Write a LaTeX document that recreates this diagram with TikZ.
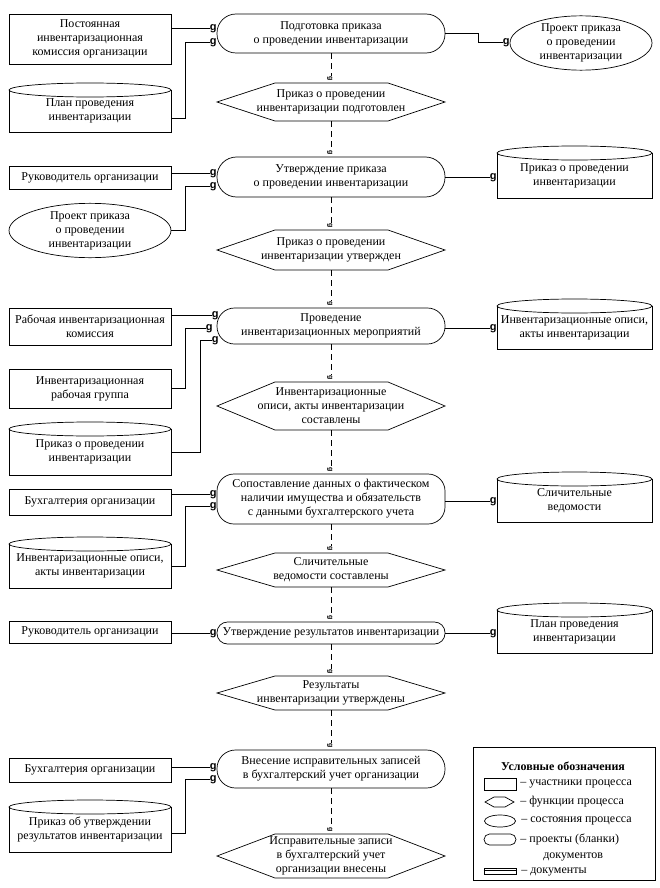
\documentclass[tikz,border=0pt]{standalone}
\usepackage{fontspec}
\setmainfont{Liberation Serif}
\newfontfamily\gfont{Liberation Sans}
\usetikzlibrary{shapes.geometric,calc}
\newcommand{\docnode}[6]{%
  \draw ({(#2+#4)/2},{#3+7}) ellipse [x radius={(#4-#2)/2}, y radius=7];
  \draw (#2,{#3+7}) -- (#2,#5) -- (#4,#5) -- (#4,{#3+7});
  \node[body, minimum width={(#4-#2)*1pt}, minimum height={(#5-#3-7)*1pt}] (#1) at ({(#2+#4)/2},{(#3+7+#5)/2}) {#6};
}
\newcommand{\statenode}[4]{%
  \draw (217,#2) -- (275,{#2-#3}) -- (388,{#2-#3}) -- (445,#2) -- (388,{#2+#3}) -- (275,{#2+#3}) -- cycle;
  \node[body, minimum width=228pt, minimum height={2*#3*1pt}] (#1) at (331,#2) {#4};
}
\begin{document}
\begin{tikzpicture}[x=1pt,y=-1pt, line width=0.7pt,
  every node/.style={font=\fontsize{12}{14}\selectfont, inner sep=0pt, align=center},
  part/.style={draw, rectangle, minimum width=162pt},
  proc/.style={draw, rectangle, minimum width=228pt},
  ell/.style={draw, ellipse},
  body/.style={rectangle},
  gl/.style={font=\gfont\bfseries\fontsize{11}{11}\selectfont, anchor=mid east},
  vg/.style={font=\gfont\bfseries\fontsize{7}{7}\selectfont, rotate=-90, anchor=mid east},
  flow/.style={dash pattern=on 6pt off 4pt},
  legtext/.style={anchor=west}]
\fill[white] (0,0) rectangle (660,888);
\useasboundingbox (0,0) rectangle (660,888);

% ---------- Row 1
\node[part, minimum height=50pt] (a1) at (90,39) {Постоянная\\инвентаризационная\\комиссия организации};
\docnode{d1}{9}{83}{171}{132}{План проведения\\инвентаризации}
\node[proc, minimum height=39pt, rounded corners=19pt] (p1) at (331,33.5) {Подготовка приказа\\о проведении инвентаризации};
\node[ell, minimum width=142pt, minimum height=52pt] (e1) at (581,43) {Проект приказа\\о проведении\\инвентаризации};
\statenode{s1}{102}{19}{Приказ о проведении\\инвентаризации подготовлен}
\node[gl] (g11) at (217,28) {g};
\node[gl] (g12) at (217,42) {g};
\node[gl] (g13) at (510,42) {g};
\draw (a1.east |- g11.mid west) -- (g11.mid west);
\draw ([yshift=-7pt]d1.east) -- ++(14,0) |- (g12.mid west);
\draw (p1.east) -- ++(33,0) |- (g13.mid west);

% ---------- Row 2
\node[part, minimum height=23pt] (a2) at (90,177.5) {Руководитель организации};
\node[ell, minimum width=162pt, minimum height=49pt] (e2) at (90,230.5) {Проект приказа\\о проведении\\инвентаризации};
\node[proc, minimum height=40pt, rounded corners=19.5pt] (p2) at (331,177) {Утверждение приказа\\о проведении инвентаризации};
\docnode{d2}{497}{146}{652}{198}{Приказ о проведении\\инвентаризации}
\statenode{s2}{250}{20}{Приказ о проведении\\инвентаризации утвержден}
\node[gl] (g21) at (217,173) {g};
\node[gl] (g22) at (217,186) {g};
\node[gl] (g23) at (497,177) {g};
\draw (a2.east |- g21.mid west) -- (g21.mid west);
\draw (e2.east) -- ++(14,0) |- (g22.mid west);
\draw (p2.east |- g23.mid west) -- (g23.mid west);

% ---------- Row 3
\node[part, minimum height=37pt] (a3) at (90,326.5) {Рабочая инвентаризационная\\комиссия};
\node[part, minimum height=39pt] (a4) at (90,388.5) {Инвентаризационная\\рабочая группа};
\docnode{d3}{9}{422}{171}{475}{Приказ о проведении\\инвентаризации}
\node[proc, minimum height=36pt, rounded corners=17.5pt] (p3) at (331,326) {Проведение\\инвентаризационных мероприятий};
\docnode{d4}{497}{299}{652}{349}{Инвентаризационные описи,\\акты инвентаризации}
\statenode{s3}{406}{24}{Инвентаризационные\\описи, акты инвентаризации\\составлены}
\node[gl] (g31) at (219,315) {g};
\node[gl] (g32) at (213,328) {g};
\node[gl] (g33) at (219,340) {g};
\node[gl] (g34) at (497,328) {g};
\draw (a3.east |- g31.mid west) -- (g31.mid west);
\draw (a4.east) -- ++(14,0) |- (g32.mid west);
\draw (d3.east) -- ++(29,0) |- (g33.mid west);
\draw (p3.east |- g34.mid west) -- (g34.mid west);

% ---------- Row 4
\node[part, minimum height=26pt] (a5) at (90,502) {Бухгалтерия организации};
\docnode{d5}{9}{537}{171}{588}{Инвентаризационные описи,\\акты инвентаризации}
\node[proc, minimum height=50pt, rounded corners=17pt] (p4) at (331,499) {Сопоставление данных о фактическом\\наличии имущества и обязательств\\с данными бухгалтерского учета};
\docnode{d6}{497}{472}{652}{522}{Сличительные\\ведомости}
\statenode{s4}{570}{17}{Сличительные\\ведомости составлены}
\node[gl] (g41) at (217,494) {g};
\node[gl] (g42) at (217,506) {g};
\node[gl] (g43) at (497,501) {g};
\draw (a5.east |- g41.mid west) -- (g41.mid west);
\draw (d5.east) -- ++(14,0) |- (g42.mid west);
\draw (p4.east |- g43.mid west) -- (g43.mid west);

% ---------- Row 5
\node[part, minimum height=22pt] (a6) at (90,632) {Руководитель организации};
\node[proc, minimum height=22pt, rounded corners=10.5pt] (p5) at (331,633) {Утверждение результатов инвентаризации};
\docnode{d7}{497}{603}{652}{653}{План проведения\\инвентаризации}
\statenode{s5}{693}{17}{Результаты\\инвентаризации утверждены}
\node[gl] (g51) at (217,633) {g};
\node[gl] (g52) at (497,633) {g};
\draw (a6.east |- g51.mid west) -- (g51.mid west);
\draw (p5.east |- g52.mid west) -- (g52.mid west);

% ---------- Row 6
\node[part, minimum height=24pt] (a7) at (90,770) {Бухгалтерия организации};
\docnode{d8}{9}{800}{171}{852}{Приказ об утверждении\\результатов инвентаризации}
\node[proc, minimum height=38pt, rounded corners=18.5pt] (p6) at (331,769) {Внесение исправительных записей\\в бухгалтерский учет организации};
\statenode{s6}{856}{22}{Исправительные записи\\в бухгалтерский учет\\организации внесены}
\node[gl] (g61) at (217,767) {g};
\node[gl] (g62) at (217,779) {g};
\draw (a7.east |- g61.mid west) -- (g61.mid west);
\draw ([yshift=-3.5pt]d8.east) -- ++(14,0) |- (g62.mid west);

% ---------- dashed flow
\foreach \a/\b [count=\i] in {p1/s1, s1/p2, p2/s2, s2/p3, p3/s3, s3/p4, p4/s4, s4/p5, p5/s5, s5/p6, p6/s6}{
  \node[vg] (v\i) at ([yshift=2pt]\b.north) {g};
  \draw[flow] (\a.south) -- (v\i.mid west);
}

% ---------- legend
\node[draw, minimum width=182pt, minimum height=133pt] (leg) at (564,813.5) {};
\node[font=\bfseries\fontsize{12}{14}\selectfont] (lt) at (563,766) {Условные обозначения};
\node[draw, minimum width=32pt, minimum height=12pt] (l1) at (500,784) {};
\draw (485,802) -- (494,797) -- (505,797) -- (514,802) -- (505,807) -- (494,807) -- cycle;
\node[minimum width=29pt, minimum height=10pt] (l2) at (499.5,802) {};
\node[ell, minimum width=31pt, minimum height=12pt] (l3) at (500,821) {};
\node[draw, minimum width=32pt, minimum height=11pt, rounded corners=5.5pt] (l4) at (500,839.5) {};
\node[draw, minimum width=32pt, minimum height=6pt] (l5) at (500,871.5) {};
\draw ([yshift=-2.5pt]l5.north west) -- ([yshift=-2.5pt]l5.north east);
\node[legtext] (t1) at (520,784) {– участники процесса};
\node[legtext] (t2) at (520,802) {– функции процесса};
\node[legtext] (t3) at (521,821) {– состояния процесса};
\node[legtext] (t4) at (520,839) {– проекты (бланки)};
\node[legtext] (t5) at (543,857) {документов};
\node[legtext] (t6) at (521,872) {– документы};
\end{tikzpicture}
\end{document}
